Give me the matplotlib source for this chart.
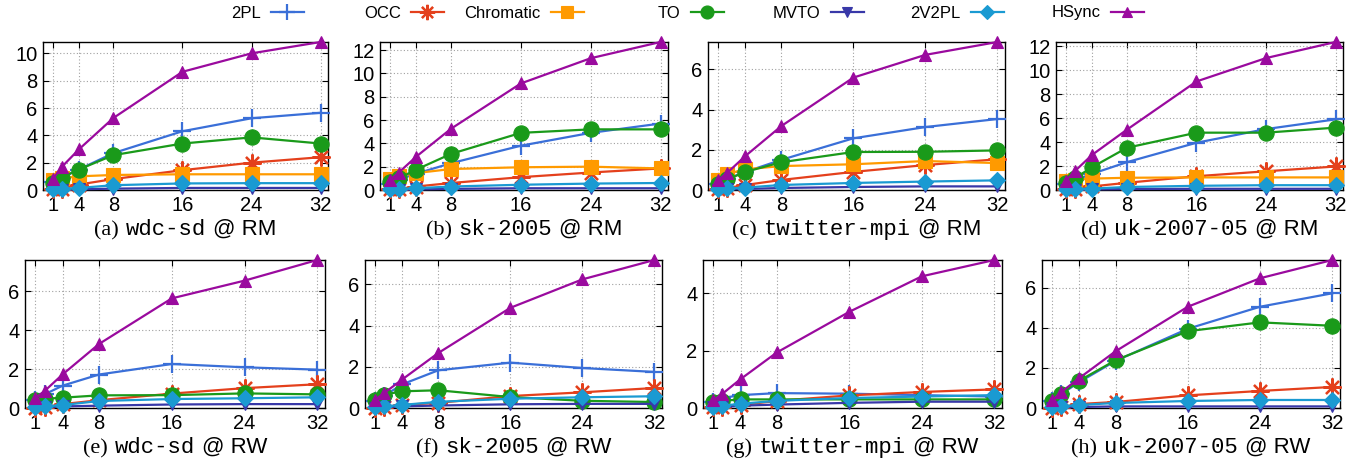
import numpy as np
import matplotlib
matplotlib.use('Agg')
import matplotlib.pyplot as plt
from matplotlib.ticker import MultipleLocator
from matplotlib.offsetbox import TextArea, HPacker, AnnotationBbox
from matplotlib.lines import Line2D

# hilos (eje x)
threads = [1, 2, 4, 8, 16, 24, 32]
xticks = [1, 4, 8, 16, 24, 32]

# series y estilos
names = ['2PL', 'OCC', 'Chromatic', 'TO', 'MVTO', '2V2PL', 'HSync']
colors = ['#3a6fd8', '#e4401c', '#ff9a00', '#1a9a1a', '#3838a8', '#1a9ad2', '#9a0a9e']
markers = ['+', (8, 2, 0), 's', 'o', 'v', 'D', '^']
msizes = [13, 13, 10, 11, 8, 8, 9]

# datos por panel (throughput)
wdc_rm = {'2PL': [0.6, 0.9, 1.5, 2.7, 4.3, 5.25, 5.65],
          'OCC': [0.05, 0.1, 0.4, 0.8, 1.45, 2.0, 2.4],
          'Chromatic': [0.7, 0.85, 1.0, 1.1, 1.15, 1.15, 1.15],
          'TO': [0.5, 0.9, 1.5, 2.55, 3.4, 3.85, 3.4],
          'MVTO': [0.02, 0.03, 0.05, 0.1, 0.15, 0.15, 0.15],
          '2V2PL': [0.05, 0.08, 0.15, 0.35, 0.48, 0.5, 0.5],
          'HSync': [0.8, 1.67, 2.97, 5.27, 8.65, 10.0, 10.83]}
sk_rm = {'2PL': [0.5, 0.9, 1.4, 2.3, 3.8, 4.9, 5.7],
         'OCC': [0.05, 0.1, 0.3, 0.6, 1.1, 1.5, 1.85],
         'Chromatic': [0.95, 1.2, 1.45, 1.8, 1.95, 2.0, 1.85],
         'TO': [0.7, 1.0, 1.75, 3.1, 4.9, 5.2, 5.2],
         'MVTO': [0.02, 0.03, 0.05, 0.1, 0.15, 0.15, 0.15],
         '2V2PL': [0.05, 0.08, 0.15, 0.3, 0.45, 0.55, 0.6],
         'HSync': [0.86, 1.5, 2.86, 5.26, 9.14, 11.3, 12.69]}
tw_rm = {'2PL': [0.3, 0.55, 0.9, 1.5, 2.57, 3.13, 3.53],
         'OCC': [0.05, 0.1, 0.25, 0.5, 0.9, 1.24, 1.53],
         'Chromatic': [0.5, 0.8, 1.03, 1.19, 1.28, 1.44, 1.34],
         'TO': [0.3, 0.53, 0.9, 1.38, 1.89, 1.9, 1.97],
         'MVTO': [0.02, 0.03, 0.05, 0.1, 0.15, 0.18, 0.18],
         '2V2PL': [0.05, 0.08, 0.12, 0.25, 0.35, 0.42, 0.48],
         'HSync': [0.5, 0.86, 1.69, 3.18, 5.59, 6.72, 7.36]}
uk_rm = {'2PL': [0.5, 0.8, 1.35, 2.32, 3.94, 5.08, 5.89],
         'OCC': [0.05, 0.1, 0.3, 0.6, 1.15, 1.56, 1.96],
         'Chromatic': [0.75, 0.85, 0.95, 1.02, 1.05, 1.05, 1.05],
         'TO': [0.6, 0.98, 1.9, 3.52, 4.78, 4.78, 5.2],
         'MVTO': [0.02, 0.03, 0.05, 0.08, 0.1, 0.1, 0.1],
         '2V2PL': [0.05, 0.08, 0.12, 0.25, 0.35, 0.4, 0.4],
         'HSync': [0.78, 1.56, 2.93, 5.03, 9.05, 11.0, 12.34]}
wdc_rw = {'2PL': [0.4, 0.7, 1.15, 1.72, 2.26, 2.09, 1.97],
          'OCC': [0.02, 0.05, 0.2, 0.4, 0.74, 1.02, 1.22],
          'TO': [0.42, 0.47, 0.53, 0.65, 0.66, 0.75, 0.7],
          'MVTO': [0.02, 0.03, 0.08, 0.12, 0.18, 0.2, 0.2],
          '2V2PL': [0.05, 0.08, 0.15, 0.36, 0.46, 0.5, 0.55],
          'HSync': [0.51, 0.87, 1.73, 3.29, 5.63, 6.54, 7.6]}
sk_rw = {'2PL': [0.35, 0.6, 1.15, 1.83, 2.2, 1.94, 1.75],
         'OCC': [0.02, 0.05, 0.15, 0.25, 0.58, 0.76, 0.97],
         'TO': [0.37, 0.65, 0.81, 0.86, 0.53, 0.35, 0.29],
         'MVTO': [0.02, 0.03, 0.08, 0.12, 0.18, 0.2, 0.2],
         '2V2PL': [0.05, 0.08, 0.15, 0.3, 0.45, 0.52, 0.57],
         'HSync': [0.41, 0.73, 1.39, 2.67, 4.86, 6.24, 7.18]}
tw_rw = {'2PL': [0.2, 0.35, 0.45, 0.52, 0.5, 0.45, 0.4],
         'OCC': [0.02, 0.05, 0.1, 0.25, 0.44, 0.56, 0.65],
         'TO': [0.2, 0.25, 0.3, 0.3, 0.3, 0.3, 0.3],
         'MVTO': [0.02, 0.03, 0.08, 0.12, 0.18, 0.22, 0.22],
         '2V2PL': [0.05, 0.08, 0.15, 0.25, 0.35, 0.4, 0.45],
         'HSync': [0.27, 0.5, 1.01, 1.94, 3.36, 4.6, 5.17]}
uk_rw = {'2PL': [0.35, 0.7, 1.3, 2.35, 3.95, 5.05, 5.72],
         'OCC': [0.02, 0.05, 0.2, 0.3, 0.63, 0.85, 1.05],
         'TO': [0.35, 0.72, 1.37, 2.38, 3.83, 4.27, 4.1],
         'MVTO': [0.02, 0.03, 0.05, 0.08, 0.08, 0.08, 0.08],
         '2V2PL': [0.05, 0.08, 0.15, 0.25, 0.35, 0.4, 0.4],
         'HSync': [0.38, 0.8, 1.5, 2.83, 5.05, 6.47, 7.38]}

panels = [wdc_rm, sk_rm, tw_rm, uk_rm, wdc_rw, sk_rw, tw_rw, uk_rw]
letters = ['(a)', '(b)', '(c)', '(d)', '(e)', '(f)', '(g)', '(h)']
graphs = ['wdc-sd', 'sk-2005', 'twitter-mpi', 'uk-2007-05'] * 2
modes = ['RM'] * 4 + ['RW'] * 4

# posiciones de los ejes en pixeles (izq, der, arriba, abajo)
W, H = 1355, 462
boxes = [(43, 328, 42, 190), (380, 668, 42, 190), (708, 1005, 42, 190), (1056, 1343, 42, 190),
         (25, 325, 260, 408), (365, 662, 260, 408), (703, 1002, 260, 408), (1042, 1340, 260, 408)]

fig = plt.figure(figsize=(W / 100, H / 100), dpi=100)
sans = 'Liberation Sans'

for i, datos in enumerate(panels):
    l, r, t, b = boxes[i]
    ax = fig.add_axes([l / W, 1 - b / H, (r - l) / W, (b - t) / H])
    ymax = 0
    for j, n in enumerate(names):
        if n not in datos:
            continue
        y = datos[n]
        ymax = max(ymax, max(y))
        ax.plot(threads, y, color=colors[j], marker=markers[j], markersize=msizes[j],
                markeredgewidth=1.6 if j < 2 else 0.8, lw=1.6, clip_on=False, zorder=3 + j)
    ax.set_xlim(-0.15, 32.85)
    ax.set_ylim(0, ymax)
    ax.set_xticks(xticks)
    ax.yaxis.set_major_locator(MultipleLocator(2))
    ax.grid(True, color='#a0a0a0', lw=0.8, linestyle=(0, (1, 2)))
    ax.set_axisbelow(True)
    ax.tick_params(direction='in', length=4, top=True, right=True, labelsize=14.5, pad=4)
    for lab in ax.get_xticklabels() + ax.get_yticklabels():
        lab.set_family(sans)
    for s in ax.spines.values():
        s.set_linewidth(1.0)

    # titulo de cada panel con tres fuentes distintas
    partes = [TextArea(letters[i], textprops=dict(family='Liberation Serif', size=16)),
              TextArea(graphs[i], textprops=dict(family='Liberation Mono', size=16)),
              TextArea('@ ' + modes[i], textprops=dict(family=sans, size=16))]
    caja = HPacker(children=partes, align='baseline', pad=0, sep=5)
    ab = AnnotationBbox(caja, (0.5, 0), xycoords='axes fraction', xybox=(0, -21),
                        boxcoords='offset points', box_alignment=(0.5, 1), frameon=False)
    ax.add_artist(ab)

# leyenda: una entrada cada 140 px, texto a la izquierda de la muestra
for j, n in enumerate(names):
    h = Line2D([], [], color=colors[j], marker=markers[j], markersize=msizes[j] * 0.85,
               markeredgewidth=1.6 if j < 2 else 0.8, lw=1.6)
    xr = (304 + 140 * j) / W
    fig.legend([h], [n], loc='center right', bbox_to_anchor=(xr, 1 - 13 / H), frameon=False,
               markerfirst=False, handlelength=2.0, handletextpad=0.6, borderpad=0,
               borderaxespad=0, prop=dict(family=sans, size=12))

fig.savefig('out.png', dpi=100)
